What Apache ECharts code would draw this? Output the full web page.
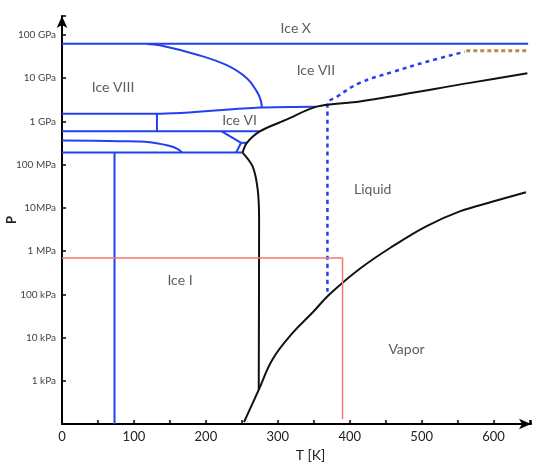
<!DOCTYPE html>
<html>
<head>
<meta charset="utf-8">
<script src="https://cdn.jsdelivr.net/npm/echarts@6/dist/echarts.min.js"></script>
<style>
  html, body { margin: 0; padding: 0; background: #fff; }
  #myChart { width: 538px; height: 468px; }
</style>
</head>
<body>
<div id="myChart"></div>
<script>
// temperature in K, pressure in Pa
const iceX = [[0, 6.3e10], [648, 6.3e10]];
const ice8to7 = [[118, 6.2e10], [136, 5.8e10], [188, 3.5e10], [229, 2.0e10], [257, 1.0e10], [271, 4.9e9], [276, 3.2e9], [278, 2.1e9]];
const ice7line = [[0, 1.5e9], [130, 1.5e9], [275, 2.1e9], [354, 2.2e9]];
const ice6line = [[0, 5.9e8], [275, 5.9e8]];
const ice6split = [[132, 1.5e9], [132, 5.9e8]];
const tongue = [[0, 3.6e8], [80, 3.5e8], [122, 3.3e8], [150, 2.7e8], [161, 2.3e8], [167, 1.9e8]];
const lowLine = [[0, 1.9e8], [251, 1.9e8]];
const ice5 = [[222, 5.9e8], [249, 3.2e8], [242, 1.9e8]];
const ice5top = [[249, 3.2e8], [257, 3.2e8]];
const ice8drop = [[73, 1.9e8], [73, 100]];
const meltHigh = [[251, 1.9e8], [257, 3.2e8], [275, 5.9e8], [312, 1.1e9], [354, 2.2e9], [414, 2.9e9], [567, 7.8e9], [647, 1.3e10]];
const meltIce1 = [[251, 1.9e8], [265, 9.1e7], [272, 2.7e7], [274, 5.5e6], [273.5, 620]];
const vapor = [[253, 110], [273.5, 620], [293, 3.2e3], [321, 1.3e4], [349, 3.9e4], [372, 1.0e5], [414, 3.9e5], [460, 1.3e6], [507, 3.8e6], [553, 8.3e6], [599, 1.4e7], [645, 2.3e7]];
const dashBlue = [[369, 1.15e5], [369, 2.5e9], [382, 3.7e9], [414, 7.8e9], [460, 1.4e10], [507, 2.4e10], [560, 4.1e10]];
const dashBrown = [[562, 4.3e10], [647, 4.3e10]];
const redBox = [[0, 6.9e5], [390, 6.9e5], [390, 130]];
const regionLabels = [
  ['Ice X', 325, 1.45e11],
  ['Ice VII', 353, 1.55e10],
  ['Ice VIII', 71, 6.0e9],
  ['Ice VI', 247, 1.05e9],
  ['Liquid', 432, 2.6e7],
  ['Ice I', 164, 2.1e5],
  ['Vapor', 479, 5.2e3],
];
const pLabels = { 3: '1 kPa', 4: '10 kPa', 5: '100 kPa', 6: '1 MPa', 7: '10MPa', 8: '100 MPa', 9: '1 GPa', 10: '10 GPa', 11: '100 GPa' };

const blue = '#2340ee';
const font = 'Lato, "Open Sans", sans-serif';

function line(data, color, width, type, smooth) {
  return {
    type: 'line',
    data: data,
    showSymbol: false,
    symbol: 'none',
    silent: true,
    smooth: smooth || false,
    lineStyle: { color: color, width: width, type: type || 'solid' },
    z: color === blue ? 3 : 4,
  };
}

const mychart = echarts.init(document.getElementById('myChart'));
const options = {
  animation: false,
  grid: { left: 62, right: 7, top: 16, bottom: 44, containLabel: false, outerBoundsMode: 'none' },
  xAxis: {
    type: 'value',
    min: 0,
    max: 652,
    interval: 50,
    name: 'T [K]',
    nameLocation: 'middle',
    nameGap: 24,
    nameMoveOverlap: false,
    nameTextStyle: { color: '#222', fontSize: 14, fontFamily: font, padding: [0, 0, 0, 28] },
    axisLine: { lineStyle: { color: '#000', width: 2 }, symbol: ['none', 'arrow'], symbolSize: [8, 12] },
    axisTick: { inside: true, length: 4, lineStyle: { color: '#000', width: 1.5 } },
    axisLabel: {
      color: '#222',
      fontSize: 13,
      fontFamily: font,
      margin: 6,
      formatter: function (v) { return (v % 100 === 0 && v <= 600) ? String(v) : ''; },
    },
    splitLine: { show: false },
  },
  yAxis: {
    type: 'log',
    logBase: 10,
    min: 100,
    max: 2.75e11,
    name: 'P',
    nameLocation: 'middle',
    nameGap: 44,
    nameMoveOverlap: false,
    nameTextStyle: { color: '#222', fontSize: 13, fontFamily: font, fontWeight: 'bold' },
    axisLine: { lineStyle: { color: '#000', width: 2 }, symbol: ['none', 'arrow'], symbolSize: [8, 12] },
    axisTick: { inside: true, length: 4, lineStyle: { color: '#000', width: 1.5 } },
    axisLabel: {
      color: '#444',
      fontSize: 10,
      fontFamily: font,
      margin: 6,
      formatter: function (v) {
        const e = Math.log10(v);
        const r = Math.round(e);
        return Math.abs(e - r) < 0.01 && pLabels[r] ? pLabels[r] : '';
      },
    },
    splitLine: { show: false },
  },
  series: [
    line(iceX, blue, 2),
    line(ice8to7, blue, 2, null, 0.4),
    line(ice7line, blue, 2, null, 0.3),
    line(ice6line, blue, 2),
    line(ice6split, blue, 2),
    line(tongue, blue, 2, null, 0.4),
    line(lowLine, blue, 2),
    line(ice5, blue, 2),
    line(ice5top, blue, 2),
    line(ice8drop, blue, 2),
    line(dashBlue, blue, 2.5, [4, 4], 0.4),
    line(dashBrown, '#b88a4c', 3, [4, 3]),
    line(meltHigh, '#111', 2, null, 0.3),
    line(meltIce1, '#111', 2, null, 0.3),
    line(vapor, '#111', 2, null, 0.4),
    line(redBox, '#f47a6c', 1.5),
    {
      type: 'scatter',
      symbolSize: 0,
      silent: true,
      data: regionLabels.map(function (d) { return { name: d[0], value: [d[1], d[2]] }; }),
      label: {
        show: true,
        position: 'inside',
        formatter: '{b}',
        color: '#333',
        fontSize: 14,
        fontFamily: font,
      },
    },
  ],
};
mychart.setOption(options);
</script>
</body>
</html>
